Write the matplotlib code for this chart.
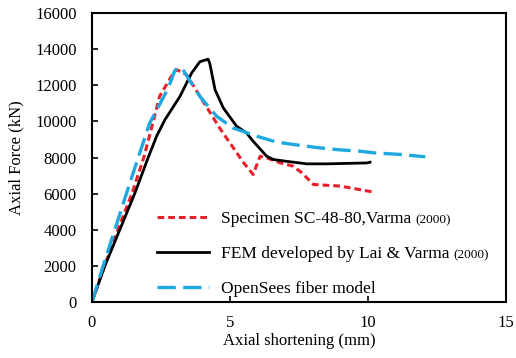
import matplotlib
matplotlib.use("Agg")
import matplotlib.pyplot as plt

plt.rcParams['font.family'] = ['Liberation Serif', 'DejaVu Serif']

# Test: Specimen SC-48-80 (Varma 2000)
spec_x = [0, 0.46, 0.94, 1.45, 1.88, 2.25, 2.45, 2.95, 3.07, 3.43, 4.64, 5.5, 5.84,
          6.09, 6.33, 6.81, 7.29, 7.6, 8.02, 8.99, 10.19]
spec_y = [0, 2000, 4000, 6000, 8000, 10150, 11380, 12670, 12860, 12580, 9600, 7700, 7060,
          8070, 7980, 7710, 7520, 7160, 6510, 6420, 6090]

# FEM by Lai & Varma (2000)
fem_x = [0, 0.47, 1.01, 1.55, 2.04, 2.35, 2.65, 3.19, 3.61, 3.91, 4.21, 4.27, 4.46,
         4.76, 5.24, 5.6, 5.84, 6.33, 6.57, 7.0, 7.78, 8.5, 9.95, 10.07]
fem_y = [0, 2000, 4000, 6000, 8000, 9200, 10100, 11380, 12670, 13300, 13440, 13200, 11750,
         10740, 9730, 9360, 8900, 8070, 7890, 7800, 7650, 7650, 7700, 7740]

# OpenSees fiber model
ops_x = [0, 0.41, 0.83, 1.25, 1.68, 2.09, 2.77, 3.0, 3.13, 3.3, 3.91, 4.52, 5.1, 5.97, 6.69,
         7.5, 8.26, 9.0, 9.71, 10.2, 11.16, 12.07]
ops_y = [0, 2000, 4000, 6000, 8000, 9890, 11850, 12800, 12990, 12850, 11380, 10280, 9640,
         9180, 8850, 8680, 8530, 8420, 8350, 8260, 8170, 8040]

labels = ["Specimen SC-48-80,Varma", "FEM developed by Lai & Varma", "OpenSees fiber model"]
years = ["(2000)", "(2000)", ""]

x_ticks = [0, 5, 10, 15]
y_ticks = [0, 2000, 4000, 6000, 8000, 10000, 12000, 14000, 16000]

fig = plt.figure(figsize=(5.16, 3.58), dpi=100)
ax = fig.add_axes([0.178, 0.156, 0.803, 0.808])

ax.plot(spec_x, spec_y, color='#e8202a', lw=2.2, dashes=(2.2, 1.3), label=labels[0])
ax.plot(fem_x, fem_y, color='black', lw=2.0, label=labels[1])
ax.plot(ops_x, ops_y, color='#1fa8e0', lw=2.4, dashes=(5.5, 2.2), label=labels[2])

ax.set_xlim(0, 15)
ax.set_ylim(0, 16000)
ax.set_xticks(x_ticks)
ax.set_yticks(y_ticks)
ax.tick_params(direction='in', length=4, width=1.2, labelsize=12,
               top=False, right=False)
ax.tick_params(axis='y', pad=11)
ax.tick_params(axis='x', pad=9)
for s in ax.spines.values():
    s.set_linewidth(1.5)

ax.set_xlabel("Axial shortening (mm)", fontsize=12, labelpad=2)
ax.set_ylabel("Axial Force (kN)", fontsize=12, labelpad=8)

leg = ax.legend(loc='upper left', bbox_to_anchor=(0.14, 0.34), frameon=False,
                fontsize=12.5, handlelength=3.0, handletextpad=0.7,
                labelspacing=1.1, borderaxespad=0)

fig.canvas.draw()
renderer = fig.canvas.get_renderer()
for txt, yr in zip(leg.get_texts(), years):
    if not yr:
        continue
    bb = txt.get_window_extent(renderer)
    fx = (bb.x1 + 4) / fig.bbox.width
    fy = (bb.y0 + 1) / fig.bbox.height
    fig.text(fx, fy, yr, fontsize=9.5, ha='left', va='bottom')

fig.savefig("out.png", dpi=100)
